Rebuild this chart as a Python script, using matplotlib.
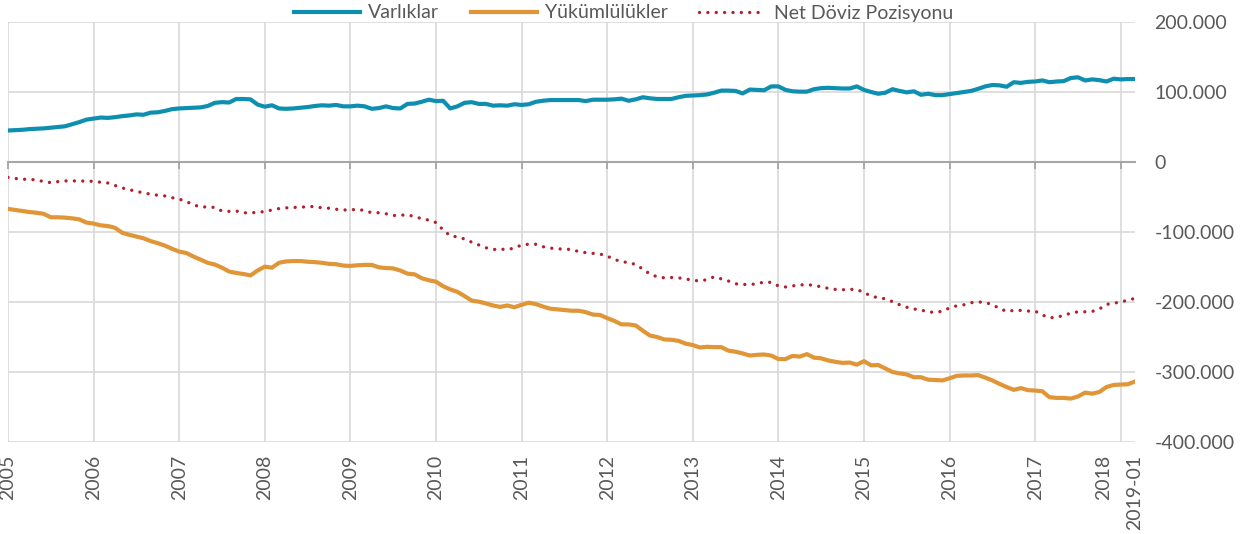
import numpy as np
import matplotlib
matplotlib.use("Agg")
import matplotlib.pyplot as plt
import matplotlib.transforms as mtransforms
from matplotlib.ticker import FuncFormatter

plt.rcParams['font.family'] = ['Lato', 'DejaVu Sans']

# aylik veriler (bin), 159 nokta
varliklar = [
    45, 45.5, 46, 47, 47.5, 48, 49, 50, 51, 54,
    57, 60.5, 62, 63.5, 63, 64, 65.5, 66.5, 68, 67.5,
    70.5, 71, 73, 75.5, 76.5, 77, 77.5, 78, 80, 84.5,
    85.5, 85, 90, 90, 89.5, 82, 79, 81, 76.5, 76,
    76.5, 77.5, 78.5, 80, 81, 80.5, 81.5, 79.5, 79.5, 80.5,
    79.5, 76, 77, 79.5, 77, 76.5, 83, 83.5, 86, 89,
    87, 87.5, 76.5, 79.5, 84.5, 85.5, 83, 83, 80.5, 81,
    80.5, 82.5, 81.5, 82.5, 86, 87.5, 88.5, 88.5, 88.5, 88.5,
    88.5, 87, 89, 89, 89, 89.5, 90.5, 87.5, 89.5, 92.5,
    91, 90, 90, 90, 92.5, 94.5, 95, 95.5, 96.5, 99,
    102, 102, 101.5, 98, 103.5, 103, 102.5, 108, 108, 103,
    101, 100.5, 100.5, 104, 105.5, 106, 105.5, 105, 105, 108,
    103, 100, 97.5, 99, 104, 101.5, 99.5, 101, 96, 97.5,
    95.5, 95.5, 97, 98.5, 100, 101.5, 104.5, 108, 110, 109.5,
    107.5, 114, 113, 114.5, 115, 116.5, 114, 115, 115.5, 120,
    121, 116.5, 118, 117, 115, 119, 118, 118.5, 118.5,
]
yukumlulukler = [
    -67, -68.5, -70, -71.5, -72.5, -74, -79, -79, -79.5, -80.5,
    -82, -86.5, -88, -90.5, -91.5, -94, -101, -104, -106.5, -109,
    -113, -116, -119.5, -124, -128, -130, -135, -139.5, -144, -146.5,
    -151, -156.5, -158.5, -160, -162, -155, -149.5, -151, -144, -142,
    -141.5, -141.5, -142.5, -143, -144, -145.5, -146, -148, -148.5, -147.5,
    -147, -147, -150.5, -151.5, -152, -155, -159.5, -160.5, -166, -169,
    -171, -177.5, -182, -185.5, -191.5, -198, -199.5, -202, -205, -207,
    -205, -207.5, -204, -201, -203, -206.5, -209.5, -210.5, -211.5, -212.5,
    -212.5, -214.5, -218, -218.5, -223, -227, -232, -232, -233.5, -241,
    -248, -250, -253.5, -254, -255.5, -259.5, -261.5, -265, -264, -264.5,
    -264.5, -269.5, -271, -273.5, -276.5, -275.5, -275, -276.5, -281.5, -281.5,
    -277, -278, -274.5, -279.5, -280.5, -283.5, -285.5, -287, -286.5, -289.5,
    -284.5, -290.5, -290, -295, -300, -302, -303.5, -307.5, -307.5, -311,
    -311.5, -312, -309, -305.5, -305, -305, -304.5, -308, -312, -317,
    -321.5, -325.5, -323, -326, -326.5, -327.5, -336, -337, -337, -338,
    -335, -329.5, -331, -328.5, -321.5, -318.5, -318, -317.5, -313.5,
]
net_pozisyon = [
    -22, -23.5, -24.5, -25, -25.5, -28, -29.5, -28, -27, -27,
    -27, -27.5, -27.5, -29, -30, -33.5, -37, -39.5, -42, -44,
    -46, -47.5, -48.5, -51, -53, -56.5, -61, -64.5, -64, -65,
    -70, -70.5, -70, -72.5, -73, -71.5, -71, -68.5, -66.5, -65.5,
    -65, -64.5, -64, -63.5, -65.5, -66, -67.5, -68.5, -68.5, -67.5,
    -69.5, -72.5, -72.5, -74, -76.5, -76, -75.5, -78, -81, -83,
    -86.5, -97, -105.5, -107, -110, -114.5, -118.5, -122.5, -125, -124.5,
    -125, -123, -118.5, -117.5, -117.5, -121, -123, -124, -124.5, -125,
    -128, -129.5, -130.5, -131.5, -134.5, -139, -142.5, -143.5, -146.5, -153,
    -160, -164, -165.5, -165, -165.5, -167, -169, -170, -168, -164,
    -167, -170, -174, -175, -175, -174, -171.5, -172, -177, -178.5,
    -177, -175.5, -175.5, -176, -178.5, -180.5, -182, -182.5, -182, -182,
    -186.5, -191.5, -194, -195.5, -199.5, -204, -207.5, -210, -211.5, -214,
    -215, -213, -208.5, -205.5, -204, -201, -200, -200.5, -204, -209,
    -213.5, -212, -212, -213, -213, -218.5, -222.5, -222, -219, -216,
    -214, -214, -213.5, -210, -203.5, -201.5, -200.5, -197, -195,
]
yil_etiketleri = ['2005', '2006', '2007', '2008', '2009', '2010', '2011',
                  '2012', '2013', '2014', '2015', '2016', '2017', '2018']
son_etiket = '2019-01'

x = np.arange(len(varliklar))
yil_pos = np.arange(len(yil_etiketleri)) * 12
tick_pos = list(yil_pos) + [x[-1]]
tick_lab = yil_etiketleri + [son_etiket]

gri = '#595959'
fig = plt.figure(figsize=(12.47, 5.34), dpi=100)
ax = fig.add_axes([0.0064, 0.1723, 0.9038, 0.7865])

ax.plot(x, varliklar, color='#0f8fb0', lw=3.0, label='Varlıklar', zorder=3)
ax.plot(x, yukumlulukler, color='#e09537', lw=3.0, label='Yükümlülükler', zorder=3)
ax.plot(x, net_pozisyon, color='#b0202f', lw=2.4, linestyle=(0, (0.01, 2.5)),
        dash_capstyle='round', label='Net Döviz Pozisyonu', zorder=3)

ax.set_xlim(0, x[-1])
ax.set_ylim(-400, 200)
ax.set_yticks([200, 100, 0, -100, -200, -300, -400])
ax.yaxis.set_major_formatter(FuncFormatter(lambda v, p: f"{int(v * 1000):,}".replace(",", ".")))
ax.yaxis.tick_right()
ax.tick_params(axis='y', length=0, pad=14, labelsize=14, labelcolor=gri)
ax.grid(axis='y', color='#d9d9d9', lw=1.2)

# yil cizgileri
for p in yil_pos:
    ax.axvline(p, color='#d9d9d9', lw=1.2, zorder=1)

for s in ['top', 'right', 'left']:
    ax.spines[s].set_visible(False)
ax.spines['bottom'].set_position(('data', 0))
ax.spines['bottom'].set_color('#a6a6a6')
ax.spines['bottom'].set_linewidth(1.5)
ax.set_xticks(yil_pos)
ax.tick_params(axis='x', direction='out', length=5, width=1.3, color='#a6a6a6', labelbottom=False)

ax2 = ax.secondary_xaxis('bottom')
ax2.spines['bottom'].set_visible(False)
ax2.set_xticks(tick_pos)
ax2.set_xticklabels(tick_lab, rotation=90, fontsize=14, color=gri)
ax2.tick_params(axis='x', length=0, pad=9)
for lab in ax2.get_xticklabels():
    if lab.get_text() == '2018':
        lab.set_transform(lab.get_transform() + mtransforms.ScaledTranslation(-0.17, 0, fig.dpi_scale_trans))

leg = fig.legend(loc='center', bbox_to_anchor=(0.5, 1 - 13 / 534), ncol=3, frameon=False,
                 fontsize=14, handlelength=3.4, handletextpad=0.45, columnspacing=1.6)
for t in leg.get_texts():
    t.set_color(gri)

fig.savefig('out.png', dpi=100)
